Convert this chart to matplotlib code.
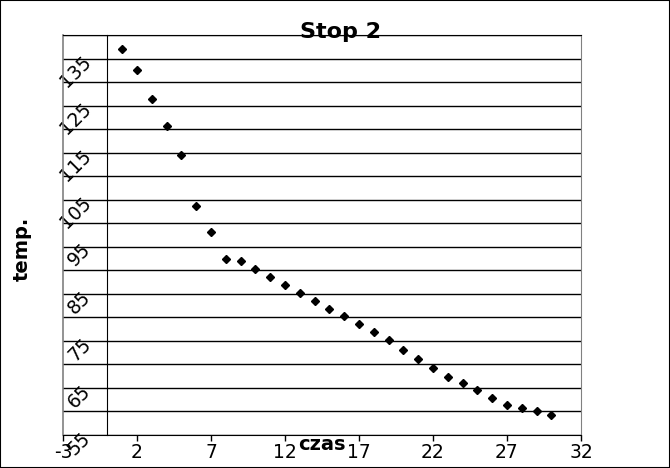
import matplotlib
matplotlib.use("Agg")
import matplotlib.pyplot as plt
from matplotlib.patches import Rectangle
import numpy as np

plt.rcParams['axes.unicode_minus'] = False

# czas (x) and temp. (y)
czas = list(range(1, 31))
temp = [137.1, 132.5, 126.4, 120.6, 114.6, 103.6, 98.2, 92.4, 92.0, 90.2,
        88.5, 86.8, 85.1, 83.4, 81.7, 80.2, 78.5, 76.8, 75.1, 73.1,
        71.1, 69.3, 67.3, 66.0, 64.6, 62.9, 61.3, 60.8, 60.0, 59.3]

x_ticks = [-3, 2, 7, 12, 17, 22, 27, 32]
y_ticks = [55, 65, 75, 85, 95, 105, 115, 125, 135]
y_grid = [60, 70, 80, 90, 100, 110, 120, 130, 140]

fig = plt.figure(figsize=(6.7, 4.68), dpi=100)
ax = fig.add_axes([63 / 670, 1 - 435 / 468, 518 / 670, 400 / 468])

ax.set_xlim(-3, 32)
ax.set_ylim(55, 140)

# horizontal grid every 5
ax.set_yticks(y_ticks)
ax.set_yticks(y_grid, minor=True)
ax.grid(axis='y', which='both', color='black', linewidth=1.0)
ax.set_axisbelow(True)

ax.plot(czas, temp, linestyle='none', marker='D', markersize=4,
        color='black', zorder=3)

# y axis sits at x = 0, frame edge at x = -3 is grey
ax.spines['left'].set_position(('data', 0))
ax.spines['left'].set_color('black')
ax.spines['right'].set_color('grey')
ax.spines['top'].set_color('black')
ax.spines['bottom'].set_color('black')
ax.axvline(-3, color='grey', linewidth=1.2, clip_on=False)

ax.set_xticks(x_ticks)
ax.tick_params(axis='x', length=4, width=1, pad=2, labelsize=13.5)
ax.tick_params(axis='y', which='both', length=0, pad=14, labelsize=13.5)
for lbl in ax.get_yticklabels():
    lbl.set_rotation(45)
    lbl.set_rotation_mode('anchor')
    lbl.set_ha('right')
    lbl.set_va('center')

ax.text(0.5, -0.0375, 'czas', transform=ax.transAxes, ha='center',
        va='baseline', fontsize=14, fontweight='bold')
fig.text(22.5 / 670, 1 - 249 / 468, 'temp.', rotation=90, ha='center',
         va='center', fontsize=14, fontweight='bold')
fig.text(341 / 670, 1 - 38.5 / 468, 'Stop 2', ha='center', va='baseline',
         fontsize=16, fontweight='bold')

# outer border of the picture
fig.patches.append(Rectangle((0, 0), 1, 1, transform=fig.transFigure,
                             fill=False, edgecolor='black', linewidth=1.5))

fig.savefig('out.png', dpi=100)
